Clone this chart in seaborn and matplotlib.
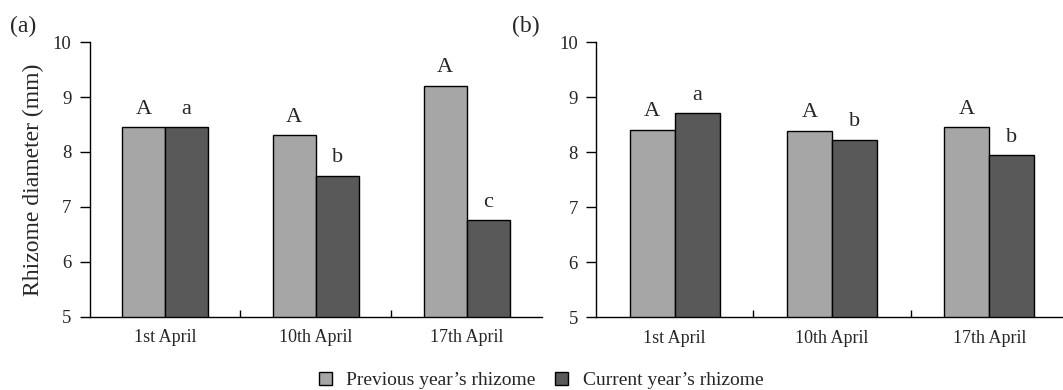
import numpy as np
import pandas as pd
import seaborn as sns
import matplotlib.pyplot as plt

dates = ['1st April', '10th April', '17th April']
series = ['Previous year\u2019s rhizome', 'Current year\u2019s rhizome']

# panel (a)
prev_a = [8.45, 8.31, 9.21]
curr_a = [8.45, 7.57, 6.76]
prev_a_letters = ['A', 'A', 'A']
curr_a_letters = ['a', 'b', 'c']

# panel (b)
prev_b = [8.41, 8.39, 8.46]
curr_b = [8.71, 8.23, 7.95]
prev_b_letters = ['A', 'A', 'A']
curr_b_letters = ['a', 'b', 'b']

colors = ['#a6a6a6', '#595959']


def make_df(prev, curr):
    return pd.DataFrame({
        'date': dates * 2,
        'series': [series[0]] * 3 + [series[1]] * 3,
        'diameter': prev + curr,
    })


sns.set_theme(style='ticks')
plt.rcParams['font.family'] = ['Liberation Serif', 'DejaVu Serif']

fig = plt.figure(figsize=(10.63, 3.9), dpi=100)
ax_a = fig.add_axes([0.0842, 0.188, 0.4257, 0.704])
ax_b = fig.add_axes([0.5607, 0.186, 0.444, 0.706])

panels = [
    (ax_a, make_df(prev_a, curr_a), prev_a_letters, curr_a_letters, '(a)', 0.009),
    (ax_b, make_df(prev_b, curr_b), prev_b_letters, curr_b_letters, '(b)', 0.482),
]

for ax, df, l_prev, l_curr, tag, tag_x in panels:
    sns.barplot(data=df, x='date', y='diameter', hue='series', order=dates,
                hue_order=series, palette=colors, width=0.57, gap=0,
                edgecolor='black', linewidth=1.0, saturation=1, ax=ax)
    ax.bar_label(ax.containers[0], labels=l_prev, padding=6, fontsize=16)
    ax.bar_label(ax.containers[1], labels=l_curr, padding=6, fontsize=16)

    ax.set_ylim(5, 10)
    ax.set_yticks([5, 6, 7, 8, 9, 10])
    ax.set_xlim(-0.5, 2.5)
    ax.set_xticks([0, 1, 2])
    ax.set_xticklabels(dates)
    ax.set_xticks([0.5, 1.5], minor=True)
    ax.tick_params(axis='x', which='major', length=0, pad=9, labelsize=13)
    ax.tick_params(axis='x', which='minor', direction='in', length=5,
                   width=1, color='black')
    ax.tick_params(axis='y', direction='out', length=7, width=1,
                   color='black', pad=6, labelsize=13.5)
    for side in ['top', 'right']:
        ax.spines[side].set_visible(False)
    for side in ['left', 'bottom']:
        ax.spines[side].set_color('black')
        ax.spines[side].set_linewidth(1.0)
    ax.set_xlabel('')
    ax.set_ylabel('')
    ax.get_legend().remove()
    fig.text(tag_x, 0.932, tag, fontsize=17, ha='left', va='center')

ax_a.set_ylabel('Rhizome diameter (mm)', fontsize=17, labelpad=6)

handles, labels = ax_a.get_legend_handles_labels()
fig.legend(handles, labels, loc='center', bbox_to_anchor=(0.509, 0.025),
           ncol=2, frameon=False, fontsize=14, handlelength=0.67,
           handleheight=0.67, handletextpad=0.75, columnspacing=1.0)

fig.savefig('out.png', dpi=100)
